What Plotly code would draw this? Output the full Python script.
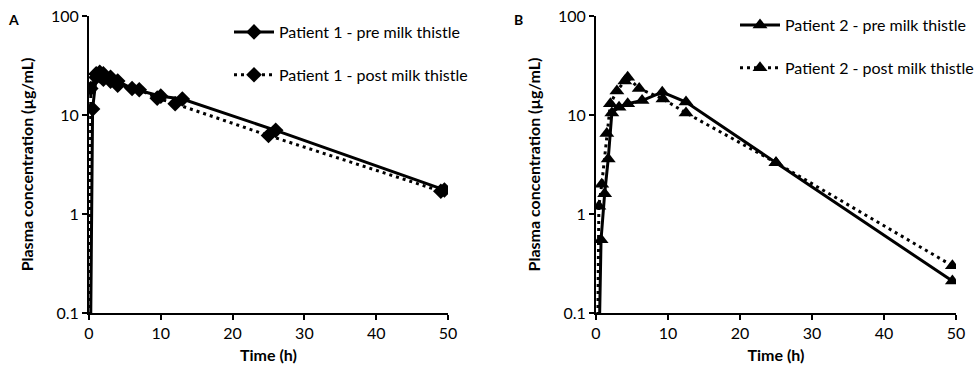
import plotly.graph_objects as go

# Panel A - Patient 1 (diamonds)
p1_pre_t = [0, 0.5, 1, 1.5, 2, 3, 4, 6, 10, 13, 26, 49.5]
p1_pre_c = [0.001, 11.5, 24, 27, 26, 24, 22, 18.5, 15.5, 14.5, 7.0, 1.75]
p1_post_t = [0, 0.25, 1, 1.5, 2, 3, 4, 7, 9.5, 12, 25, 49]
p1_post_c = [0.001, 18.5, 26, 25, 23, 22, 20, 18, 14.8, 13, 6.2, 1.7]

# Panel B - Patient 2 (triangles)
p2_pre_t = [0, 0.7, 1.2, 1.7, 2.2, 3.2, 4.4, 6.4, 9.2, 12.5, 25, 49.5]
p2_pre_c = [0.001, 0.55, 1.6, 3.6, 10.5, 12, 13, 14, 17, 13.5, 3.3, 0.21]
p2_post_t = [0, 0.4, 0.8, 1.5, 2, 2.9, 4, 4.4, 6, 9.3, 12.5, 25, 49.5]
p2_post_c = [0.001, 1.2, 2.0, 6.5, 13, 17.5, 22, 24, 18.5, 14.5, 10.5, 3.3, 0.30]

y_ticks = [0.1, 1, 10, 100]
y_tick_text = ["0.1", "1", "10", "100"]
x_ticks = [0, 10, 20, 30, 40, 50]

FONT = "Lato"
W, H = 979, 374

fig = go.Figure()

def add(t, c, name, dash, symbol, xa, ya, legend, size):
    fig.add_trace(go.Scatter(
        x=t, y=c, name=name, mode="lines+markers",
        line=dict(color="black", width=3, dash=dash),
        marker=dict(symbol=symbol, size=size, color="black"),
        xaxis=xa, yaxis=ya, legend=legend, legendgroup=name,
        cliponaxis=True,
    ))

add(p1_pre_t, p1_pre_c, "Patient 1 - pre milk thistle", "solid", "diamond", "x", "y", "legend", 12)
add(p1_post_t, p1_post_c, "Patient 1 - post milk thistle", "3px,4px", "diamond", "x", "y", "legend", 12)
add(p2_pre_t, p2_pre_c, "Patient 2 - pre milk thistle", "solid", "triangle-up", "x2", "y2", "legend2", 13)
add(p2_post_t, p2_post_c, "Patient 2 - post milk thistle", "3px,4px", "triangle-up", "x2", "y2", "legend2", 13)

def py(pix):
    return (H - pix) / H

def px(pix):
    return pix / W

ydom = [py(313), py(16)]
axis_common = dict(showline=True, linecolor="black", linewidth=2, ticks="outside",
                   tickcolor="black", ticklen=5, tickwidth=2, showgrid=False, zeroline=False,
                   automargin=False,
                   tickfont=dict(family=FONT, size=16, color="black"))
xcommon = dict(axis_common, range=[0, 50], tickvals=x_ticks,
               title=dict(text="<b>Time (h)</b>", font=dict(family=FONT, size=16, color="black"), standoff=9))
ycommon = dict(axis_common, type="log", range=[-1, 2], tickvals=y_ticks, ticktext=y_tick_text,
               title=dict(text="<b>Plasma concentration (µg/mL)</b>", font=dict(family=FONT, size=16, color="black"), standoff=13))

legend_common = dict(font=dict(family=FONT, size=16, color="black"), bgcolor="rgba(0,0,0,0)",
                     tracegroupgap=19, traceorder="grouped", itemwidth=40,
                     xanchor="left", yanchor="top")

fig.update_layout(
    width=W, height=H, margin=dict(l=0, r=0, t=0, b=0),
    paper_bgcolor="white", plot_bgcolor="white",
    xaxis=dict(xcommon, domain=[px(89), px(448)], anchor="y"),
    yaxis=dict(ycommon, domain=ydom, anchor="x"),
    xaxis2=dict(xcommon, domain=[px(596), px(956)], anchor="y2"),
    yaxis2=dict(ycommon, domain=ydom, anchor="x2"),
    legend=dict(legend_common, x=px(229), y=py(15)),
    legend2=dict(legend_common, x=px(735), y=py(8)),
    annotations=[
        dict(text="<b>A</b>", x=px(13), y=py(20), xref="paper", yref="paper", showarrow=False,
             xanchor="center", yanchor="middle", font=dict(family=FONT, size=14, color="black")),
        dict(text="<b>B</b>", x=px(518), y=py(20), xref="paper", yref="paper", showarrow=False,
             xanchor="center", yanchor="middle", font=dict(family=FONT, size=14, color="black")),
    ],
)

fig.write_html("out.html")
